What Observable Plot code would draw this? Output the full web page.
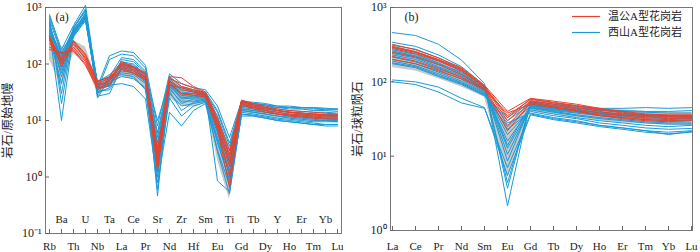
<!DOCTYPE html>
<html>
<head>
<meta charset="utf-8">
<script src="https://cdn.jsdelivr.net/npm/d3@7"></script>
<script src="https://cdn.jsdelivr.net/npm/@observablehq/plot@0.6"></script>
<style>
  html, body { margin: 0; padding: 0; background: #fff; }
  #wrap { position: relative; width: 700px; height: 252px; display: flex; }
  #legend { position: absolute; left: 570px; top: 8px; }
</style>
</head>
<body>
<div id="wrap">
  <div id="pa"></div>
  <div id="pb"></div>
  <div id="legend"></div>
</div>
<script>
// ---------- data ----------
const elementsA = ["Rb","Ba","Th","U","Nb","Ta","La","Ce","Pr","Sr","Nd","Zr","Hf","Sm","Eu","Ti","Gd","Tb","Dy","Y","Ho","Er","Tm","Yb","Lu"];
const elementsB = ["La","Ce","Pr","Nd","Sm","Eu","Gd","Tb","Dy","Ho","Er","Tm","Yb","Lu"];
const decadesA = [0.1, 1, 10, 100, 1000];
const decadesB = [1, 10, 100, 1000];
const legendNames = ["温公A型花岗岩", "西山A型花岗岩"];

// Wengong A-type granite, primitive-mantle normalized
const wengongA = [
  [300,120,220,130,45,55,100,85,65,2.5,55,45,38,30,10,2.5,22,19,17,15,14,13.5,13,12.5,12.5],
  [260,100,200,110,40,50,95,80,60,1.8,50,35,32,28,8,1.5,20,17,15,14,13,12.5,12,11.5,11.5],
  [230,130,250,140,48,60,110,90,70,3.0,60,57,40,32,11,2.9,23,20,18,16,15,14.5,14,13.5,13],
  [200,150,180,100,38,45,85,70,55,1.3,45,30,28,26,7,0.65,19,16,14,13,12,11.5,11,10.5,10.5],
  [280,110,240,120,42,52,105,88,68,2.2,58,40,35,30,9,1.8,21,18,16,15,14,13,12.5,12,12],
  [320,90,260,150,50,58,90,75,58,1.5,48,28,30,27,7.5,1.0,20,17,15,13,12.5,12,11.5,11,11],
  [180,160,170,95,36,42,80,68,52,2.8,42,38,33,29,10,2.2,22,19,17,15,14,13.5,13,12.5,12.5]
];
// Xishan A-type granite, primitive-mantle normalized
const xishanA = [
  [750,180,480,1100,40,140,170,160,95,8,67,45,38,35,18,5,22,21,20,18,18,17,17,16.5,16],
  [600,150,420,900,35,120,150,140,85,6,60,40,35,32,15,4,21,20,19,17,17,16,16,15.5,15.5],
  [500,120,380,800,30,60,130,120,75,5,55,35,32,30,12,3,20,19,18,17,16,16,15,15,14.5],
  [450,100,350,750,28,50,110,100,65,4,50,30,30,28,10,2.5,19,18,17,16,15,14.5,14,14,13.5],
  [400,80,330,700,45,45,100,90,58,3,45,28,28,27,8,2,18,17,16,15,14,13.5,13,13,12.5],
  [350,60,320,650,38,40,90,85,55,2.5,42,26,26,26,7,1.6,17,16,15,14,13,12.5,12,12,11.5],
  [300,45,400,600,33,35,80,75,50,2,40,24,25,25,6,1.3,16,15,14,13,12.5,12,11.5,11,11],
  [550,30,450,850,25,55,70,65,45,1.6,35,22,22,24,5,1.1,15,14,13,12,11.5,11,10.5,10,10],
  [650,20,360,720,42,48,60,55,38,1.2,30,18,20,22,4,0.9,14,13,12,11,10.5,10,9.5,9.5,9.5],
  [380,10,340,680,36,42,45,40,24,0.8,14,8,15,20,3,0.7,12,12,11,10,9.5,9,8.5,8.5,8.5],
  [420,140,300,620,31,38,120,110,70,0.46,52,32,30,29,0.85,0.55,13,12.5,11.5,10.5,10,9.5,9,8.5,8.5],
  [480,110,390,780,48,65,95,88,56,3.5,44,25,27,26,9,1.8,18,17,16,15,14,13.5,13,12.5,12],
  [520,90,440,950,27,30,85,80,52,1.8,38,20,24,24,6.5,1.2,16,15,14,13,12,11.5,11,11,10.5],
  [330,70,310,580,34,52,75,70,48,0.6,33,15,21,23,2.8,0.5,13,12,11,10,9.5,9,8.5,8,8],
  [700,160,370,660,39,44,105,95,62,10,48,38,33,30,14,3.5,21,20,19,18,17,17,16.5,16,16],
  [280,130,410,700,44,58,65,60,35,1.0,25,12,18,21,4.5,0.8,15,14,13,12,11,10.5,10,10,9.5]
];
// grey reference field (primitive-mantle normalized)
const fieldALow  = [120,40,150,110,30,40,60,55,35,0.8,25,18,17,20,2,0.4,14,13,12,11,10.5,10,9.5,9.5,9.5];
const fieldAHigh = [330,200,260,200,50,60,100,85,65,6,55,40,35,30,10,2.5,22,19,17,15,14,13.5,13,12.5,12.5];

// Wengong, chondrite normalized
const wengongB = [
  [320,270,210,155,90,40,60,55,50,44,40,37,36,36],
  [300,255,200,150,88,35,58,52,47,42,38,35,34,34],
  [280,240,190,140,85,30,56,50,45,40,36,34,32,33],
  [250,215,170,125,82,26,54,48,43,38,35,32,31,32],
  [220,190,150,115,80,22,52,46,41,36,33,31,30,31],
  [200,175,140,110,78,38,50,45,40,35,32,30,29,30],
  [290,250,195,145,86,33,59,53,48,43,39,36,35,35]
];
// Xishan, chondrite normalized
const xishanB = [
  [460,420,320,196,95,2.15,55,50,47,44,44,45,44,45],
  [340,300,230,160,90,3.7,52,47,44,41,40,39,38,38],
  [310,275,210,150,85,4.4,50,45,42,39,37,36,35,35],
  [290,250,195,140,82,8.6,48,43,40,37,35,34,33,33],
  [270,235,180,130,80,10.6,46,41,38,35,33,31,30,30],
  [250,220,170,125,78,12.8,45,40,36,33,31,29,28,28],
  [240,210,160,120,76,16,44,39,35,32,30,28,27,27],
  [230,200,155,115,74,19.5,42,37,33,30,28,26,25,26],
  [215,185,145,108,72,23,40,35,32,28,26,24,23,23.6],
  [200,175,135,102,70,28,38,33,30,26,24,22,19.5,21.6],
  [190,165,128,98,68,30,50,45,42,39,37,36,35,35],
  [180,160,122,95,66,33,53,48,45,42,41,40,40,41],
  [175,155,118,92,65,25,47,42,39,36,34,33,32,32],
  [106,100,85,60,45,5.5,36,31,28,25,23,21,20,21],
  [100,92,73,52,44,7,37,32,29,26,24,22,21,22],
  [260,225,175,135,80,14,49,44,41,38,36,35,34,34]
];
const fieldBLow  = [155,140,110,85,62,5,40,36,33,30,28,27,26,26];
const fieldBHigh = [300,260,200,150,85,25,55,52,48,44,42,40,39,39];

// ---------- helpers ----------
const RED = "#e8412c", BLUE = "#1b9ad6", GREY = "#c9c9c9";
const FONT = "'Liberation Serif', 'Noto Sans CJK SC', serif";
const tidy = (rows, els) => rows.flatMap((r, i) => r.map((v, j) => ({el: els[j], v, s: i})));
const field = (lo, hi, els) => els.map((el, j) => ({el, lo: lo[j], hi: hi[j]}));
const sup = {"-": "⁻", "0": "⁰", "1": "¹", "2": "²", "3": "³"};
const powFmt = d => "10" + String(Math.round(Math.log10(d))).split("").map(c => sup[c]).join("");

function panel({els, decades, domain, red, blue, fld, label, tag, W, H, mL, mR, mT, mB, tickPad, labelOffset, tagDx, alternate}) {
  const innerW = W - mL - mR, innerH = H - mT - mB;
  const bottomEls = alternate ? els.filter((d, i) => i % 2 === 0) : els;
  const topEls = alternate ? els.filter((d, i) => i % 2 === 1) : [];
  return Plot.plot({
    width: W, height: H, marginLeft: mL, marginRight: mR, marginTop: mT, marginBottom: mB,
    style: {fontFamily: FONT, fontSize: "11px", background: "#fff", color: "#222", overflow: "visible"},
    x: {type: "point", domain: els, padding: 0},
    y: {type: "log", domain},
    marks: [
      Plot.areaY(fld, {x: "el", y1: "lo", y2: "hi", fill: GREY}),
      Plot.line(blue, {x: "el", y: "v", z: "s", stroke: BLUE, strokeWidth: 1}),
      Plot.line(red, {x: "el", y: "v", z: "s", stroke: RED, strokeWidth: 1}),
      Plot.frame({stroke: "#777", strokeWidth: 1}),
      Plot.ruleX(els, {x: d => d, insetTop: innerH - 4, stroke: "#666"}),
      Plot.ruleY(decades, {y: d => d, insetRight: innerW - 4, stroke: "#666"}),
      Plot.axisX(bottomEls, {tickSize: 0, tickPadding: tickPad, fontSize: 11, label: null}),
      ...(topEls.length ? [Plot.axisX(topEls, {tickSize: 0, tickPadding: tickPad, dy: -27, fontSize: 11, label: null})] : []),
      Plot.axisY(decades, {tickSize: 0, tickPadding: 4, tickFormat: powFmt, fontSize: 12,
        label, labelAnchor: "center", labelOffset, labelArrow: "none"}),
      Plot.text([tag], {text: d => d, frameAnchor: "top-left", dx: tagDx, dy: 5, textAnchor: "start", lineAnchor: "top", fontSize: 12})
    ]
  });
}

document.getElementById("pa").append(panel({
  els: elementsA, decades: decadesA, domain: [0.1, 1000],
  red: tidy(wengongA, elementsA), blue: tidy(xishanA, elementsA),
  fld: field(fieldALow, fieldAHigh, elementsA),
  label: "岩石/原始地幔", tag: "(a)", W: 350, H: 252, mL: 45, mR: 9, mT: 7, mB: 19,
  tickPad: 9, labelOffset: 42, tagDx: 10, alternate: true
}));
document.getElementById("pb").append(panel({
  els: elementsB, decades: decadesB, domain: [1, 1000],
  red: tidy(wengongB, elementsB), blue: tidy(xishanB, elementsB),
  fld: field(fieldBLow, fieldBHigh, elementsB),
  label: "岩石/球粒陨石", tag: "(b)", W: 350, H: 252, mL: 40, mR: 8, mT: 7, mB: 22,
  tickPad: 12, labelOffset: 37, tagDx: 14, alternate: false
}));

// legend (inline SVG)
const lgSvg = d3.select("#legend").append("svg").attr("width", 125).attr("height", 36)
  .style("font-family", FONT).style("font-size", "11px");
[[legendNames[0], RED], [legendNames[1], BLUE]].forEach(([name, c], i) => {
  const g = lgSvg.append("g").attr("transform", `translate(0,${8.5 + i * 16})`);
  g.append("line").attr("x1", 2).attr("x2", 30).attr("y1", 0).attr("y2", 0)
    .attr("stroke", c).attr("stroke-width", 1.2);
  g.append("text").attr("x", 38).attr("y", 0).attr("dy", "0.35em").attr("fill", "#222").text(name);
});
</script>
</body>
</html>
